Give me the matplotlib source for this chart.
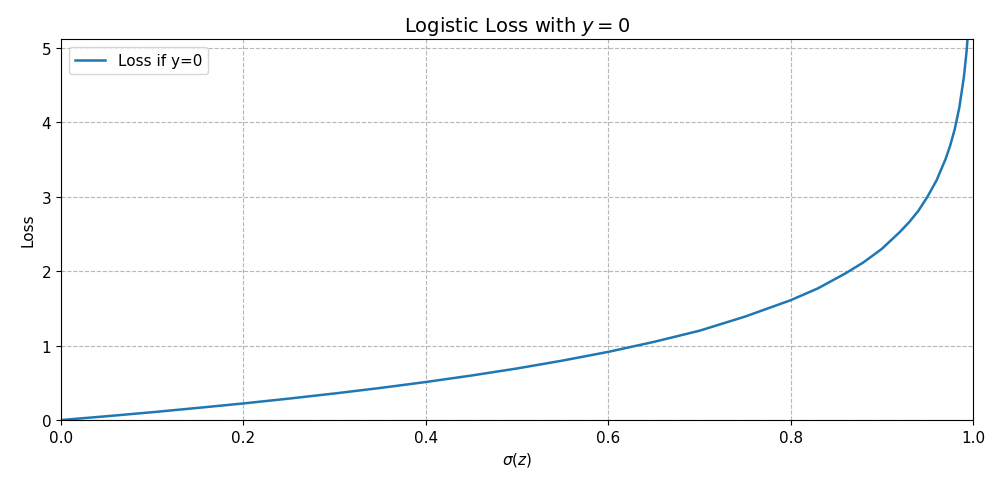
import matplotlib.pyplot as plt

# values
sigma_z = [0.0, 0.05, 0.1, 0.15, 0.2, 0.25, 0.3, 0.35, 0.4, 0.45, 0.5, 0.55, 0.6,
           0.65, 0.7, 0.75, 0.8, 0.83, 0.86, 0.88, 0.9, 0.92, 0.93, 0.94, 0.95,
           0.96, 0.97, 0.975, 0.98, 0.985, 0.99, 0.993, 0.994]
loss = [0.0, 0.051, 0.105, 0.163, 0.223, 0.288, 0.357, 0.431, 0.511, 0.598,
        0.693, 0.799, 0.916, 1.05, 1.20, 1.39, 1.61, 1.77, 1.97, 2.12, 2.30,
        2.53, 2.66, 2.81, 3.00, 3.22, 3.51, 3.69, 3.91, 4.20, 4.61, 4.96, 5.12]

fig, ax = plt.subplots(figsize=(10, 4.89), dpi=100)
ax.plot(sigma_z, loss, color='#1f77b4', lw=1.8, label='Loss if y=0')
ax.set_xlim(0, 1)
ax.set_ylim(0, 5.12)
ax.set_title('Logistic Loss with $y = 0$', fontsize=14)
ax.set_xlabel(r'$\sigma(z)$', fontsize=11)
ax.set_ylabel('Loss', fontsize=11)
ax.tick_params(labelsize=11)
ax.grid(True, linestyle='--', color='#b0b0b0', alpha=0.9)
ax.legend(loc='upper left', fontsize=11)
fig.subplots_adjust(left=0.061, right=0.973, top=0.918, bottom=0.139)
fig.savefig('out.png')
